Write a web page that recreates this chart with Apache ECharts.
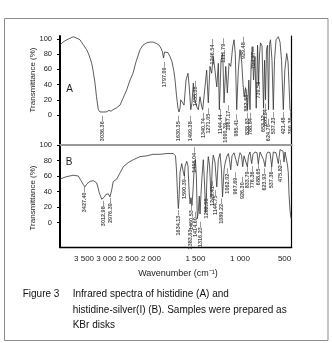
<!DOCTYPE html>
<html>
<head>
<meta charset="utf-8">
<script src="https://cdn.jsdelivr.net/npm/echarts@6/dist/echarts.min.js"></script>
<style>
  html, body { margin: 0; padding: 0; background: #fff; }
  #chart { width: 332px; height: 343px; }
</style>
</head>
<body>
<div id="chart"></div>
<script>
// spectra: [wavenumber cm-1, transmittance %]
var specA = [[4040,92],[3973,96],[3890,99],[3816,101],[3741,103],[3658,101],[3591,99],[3524,93],[3441,86],[3389,79],[3328,68],[3299,59],[3254,42],[3221,24],[3180,7],[3142,4],[3075,4],[3007,4],[2940,6],[2895,5],[2850,7],[2783,9],[2693,13],[2626,22],[2543,33],[2468,46],[2401,55],[2334,70],[2244,86],[2177,92],[2094,95],[2020,96],[1976,96],[1935,94],[1909,92],[1887,88],[1870,83],[1858,75],[1847,83],[1830,84],[1808,82],[1786,77],[1763,70],[1741,57],[1729,46],[1713,26],[1696,9],[1685,4],[1673,9],[1665,20],[1643,22],[1628,13],[1606,46],[1584,55],[1567,33],[1553,7],[1539,16],[1524,42],[1508,20],[1486,11],[1468,7],[1449,24],[1430,11],[1419,7],[1393,37],[1374,59],[1356,16],[1337,64],[1318,55],[1300,77],[1281,59],[1261,37],[1243,68],[1232,7],[1213,72],[1194,81],[1179,16],[1160,64],[1142,29],[1123,68],[1104,64],[1082,90],[1067,99],[1053,81],[1037,7],[1019,59],[1000,86],[981,70],[966,40],[953,24],[938,36],[916,7],[901,46],[888,7],[874,70],[863,90],[848,46],[832,77],[818,9],[803,92],[792,40],[781,79],[770,95],[753,91],[736,9],[725,72],[714,20],[703,86],[691,92],[680,7],[669,93],[658,99],[641,72],[626,7],[613,72],[596,99],[570,103],[551,96],[534,72],[514,7],[497,59],[476,81],[461,70],[450,40],[439,7],[420,3]];

var specB = [[4040,56],[3905,59],[3741,61],[3629,60],[3569,54],[3517,49],[3479,46],[3434,50],[3367,53],[3293,54],[3216,51],[3187,45],[3158,38],[3104,30],[3068,29],[3041,33],[3014,36],[2956,37],[2918,33],[2880,42],[2844,53],[2767,56],[2693,64],[2619,72],[2581,74],[2491,78],[2395,81],[2244,85],[2094,86],[1976,88],[1898,88],[1819,89],[1748,89],[1724,86],[1713,68],[1701,36],[1692,18],[1685,29],[1673,65],[1654,76],[1636,65],[1625,60],[1617,72],[1598,79],[1584,73],[1572,42],[1561,24],[1550,32],[1539,22],[1527,42],[1513,74],[1501,81],[1490,61],[1479,5],[1468,14],[1457,34],[1449,11],[1438,36],[1426,60],[1412,81],[1401,58],[1385,13],[1370,61],[1356,85],[1342,74],[1325,33],[1311,74],[1300,87],[1281,78],[1261,46],[1243,81],[1224,89],[1208,68],[1196,33],[1179,68],[1168,76],[1149,85],[1131,89],[1118,81],[1104,68],[1090,86],[1067,90],[1045,90],[1028,73],[1017,81],[1000,90],[983,87],[970,72],[955,86],[933,87],[918,72],[905,86],[888,91],[869,76],[854,88],[832,91],[809,90],[795,76],[775,91],[753,91],[736,81],[719,72],[703,88],[686,91],[663,90],[644,72],[626,91],[596,90],[570,76],[551,94],[532,95],[517,92],[506,78],[495,91],[480,89],[467,74],[458,64],[450,36],[439,16],[428,6],[420,4]];

// peak labels: [wavenumber, transmittance, text]
var peaksA = [[3086,-1,'3036.36'],[1853,70,'1797.09'],[1690,-1,'1630.35'],[1553,-1,'1499.38'],[1499,45,'1455.38'],[1415,3,'1340.74'],[1356,9,'1271.05'],[1314,100,'1246.54'],[1224,8,'1144.44'],[1191,101,'1111.79'],[1168,-3,'1090.39'],[1131,13,'1067.17'],[966,103,'929.48'],[1037,1,'985.41'],[927,34,'882.58'],[912,3,'838.83'],[884,3,'788.84'],[851,90,'794.47'],[795,51,'739.58'],[738,7,'653.12'],[714,15,'685.84'],[680,-5,'624.70'],[626,4,'537.23'],[514,4,'421.48'],[439,4,'390.36']];

var peaksB = [[3501,46,'3427.40'],[3075,28,'3012.98'],[2918,32,'2976.39'],[1692,16,'1634.13'],[1628,63,'1590.39'],[1516,97,'1495.04'],[1539,23,'1460.53'],[1497,14,'1414.60'],[1555,-2,'1383.83'],[1449,1,'1316.23'],[1374,38,'1282.58'],[1314,54,'1249.41'],[1275,42,'1144.75'],[1205,31,'1089.22'],[1135,70,'1062.02'],[1050,65,'967.69'],[977,59,'926.30'],[916,73,'833.79'],[860,73,'776.36'],[795,77,'688.65'],[731,70,'623.93'],[647,73,'537.36'],[551,81,'475.82']];

var xTicks = [3500, 3000, 2500, 2000, 1500, 1000, 500];
var yTicks = [0, 20, 40, 60, 80, 100];

// axis is compressed by half above 2000 cm-1
function toU(w) { return w <= 2000 ? w : 2000 + (w - 2000) / 2; }
function fromU(u) { return u <= 2000 ? u : 2000 + (u - 2000) * 2; }
function fmtWn(v) {
  var w = Math.round(fromU(v));
  if (w < 1000) return String(w);
  return Math.floor(w / 1000) + ' ' + String(w % 1000).padStart(3, '0');
}

var xMin = toU(420), xMax = toU(4040);
var FONT = '"Liberation Sans", Arial, sans-serif';

var chart = echarts.init(document.getElementById('chart'));

function xAx(grid, extra) {
  return Object.assign({
    gridIndex: grid, type: 'value', min: xMin, max: xMax, inverse: true,
    splitLine: { show: false }, axisTick: { show: false }
  }, extra);
}
function yLeft(grid, mn, mx) {
  return {
    gridIndex: grid, type: 'value', min: mn, max: mx, position: 'left',
    axisLine: { show: true, onZero: false, lineStyle: { color: '#000', width: 2 } },
    axisTick: { show: true, length: 3, customValues: yTicks, lineStyle: { color: '#000', width: 1 } },
    axisLabel: { customValues: yTicks, fontSize: 7.5, color: '#222', margin: 8, fontFamily: FONT },
    splitLine: { show: false }
  };
}
function yRight(grid, mn, mx) {
  return {
    gridIndex: grid, type: 'value', min: mn, max: mx, position: 'right',
    axisLine: { show: true, onZero: false, lineStyle: { color: '#000', width: 1.2 } },
    axisTick: { show: false }, axisLabel: { show: false }, splitLine: { show: false }
  };
}
function peakSeries(list, xi, yi) {
  return {
    type: 'scatter', xAxisIndex: xi, yAxisIndex: yi, symbolSize: 0, silent: true,
    data: list.map(function (p) { return { value: [toU(p[0]), p[1]], name: p[2] }; }),
    label: {
      show: true, position: 'inside', rotate: 90, align: 'right', verticalAlign: 'middle',
      formatter: function (p) { return p.name + '—'; },
      fontSize: 5.5, fontWeight: 'bold', color: '#222',
      fontFamily: '"Liberation Sans Narrow", "Liberation Sans", sans-serif'
    }
  };
}
function specSeries(list, xi, yi) {
  return {
    type: 'line', xAxisIndex: xi, yAxisIndex: yi, symbol: 'none', silent: true,
    lineStyle: { color: '#333', width: 0.8 },
    data: list.map(function (p) { return [toU(p[0]), p[1]]; })
  };
}
function caption(text, x, y) {
  return { type: 'text', x: x, y: y,
    style: { text: text, font: '10px ' + FONT, fill: '#111', textAlign: 'left', textVerticalAlign: 'middle' } };
}

chart.setOption({
  animation: false,
  grid: [
    { left: 60, top: 36, width: 231.7, height: 109.4, containLabel: false },
    { left: 60, top: 145, width: 231.7, height: 102.3, containLabel: false }
  ],
  xAxis: [
    xAx(0, { show: false }),
    xAx(1, {
      position: 'bottom',
      axisLine: { onZero: false, lineStyle: { color: '#000', width: 1.3 } },
      axisLabel: { customValues: xTicks.map(toU), formatter: fmtWn, fontSize: 8, color: '#222', margin: 7, fontFamily: FONT }
    }),
    xAx(1, {
      position: 'top',
      axisLine: { show: true, onZero: false, lineStyle: { color: '#999', width: 2 } },
      axisLabel: { show: false }
    })
  ],
  yAxis: [
    yLeft(0, -40, 104), yRight(0, -40, 104),
    yLeft(1, -32, 100), yRight(1, -32, 100)
  ],
  series: [
    specSeries(specA, 0, 0),
    specSeries(specB, 1, 2),
    peakSeries(peaksA, 0, 0),
    peakSeries(peaksB, 1, 2)
  ],
  graphic: [
    { type: 'rect', silent: true, shape: { x: 4.5, y: 18.5, width: 323.5, height: 322 },
      style: { fill: 'none', stroke: '#8c8c8c', lineWidth: 1 } },
    { type: 'text', x: 33, y: 80, rotation: Math.PI / 2,
      style: { text: 'Transmittance (%)', font: '8px ' + FONT, fill: '#222', textAlign: 'center', textVerticalAlign: 'middle' } },
    { type: 'text', x: 33, y: 198, rotation: Math.PI / 2,
      style: { text: 'Transmittance (%)', font: '8px ' + FONT, fill: '#222', textAlign: 'center', textVerticalAlign: 'middle' } },
    { type: 'text', x: 69.5, y: 89.5,
      style: { text: 'A', font: '10px ' + FONT, fill: '#222', textAlign: 'center', textVerticalAlign: 'middle' } },
    { type: 'text', x: 69, y: 162,
      style: { text: 'B', font: '10px ' + FONT, fill: '#222', textAlign: 'center', textVerticalAlign: 'middle' } },
    { type: 'text', x: 178, y: 274,
      style: { text: 'Wavenumber (cm⁻¹)', font: '9px ' + FONT, fill: '#222', textAlign: 'center', textVerticalAlign: 'middle' } },
    caption('Figure 3', 22.7, 294.3),
    caption('Infrared spectra of histidine (A) and', 72.7, 294.3),
    caption('histidine-silver(I) (B). Samples were prepared as', 72.7, 310),
    caption('KBr disks', 72.7, 325.7)
  ]
});
</script>
</body>
</html>
